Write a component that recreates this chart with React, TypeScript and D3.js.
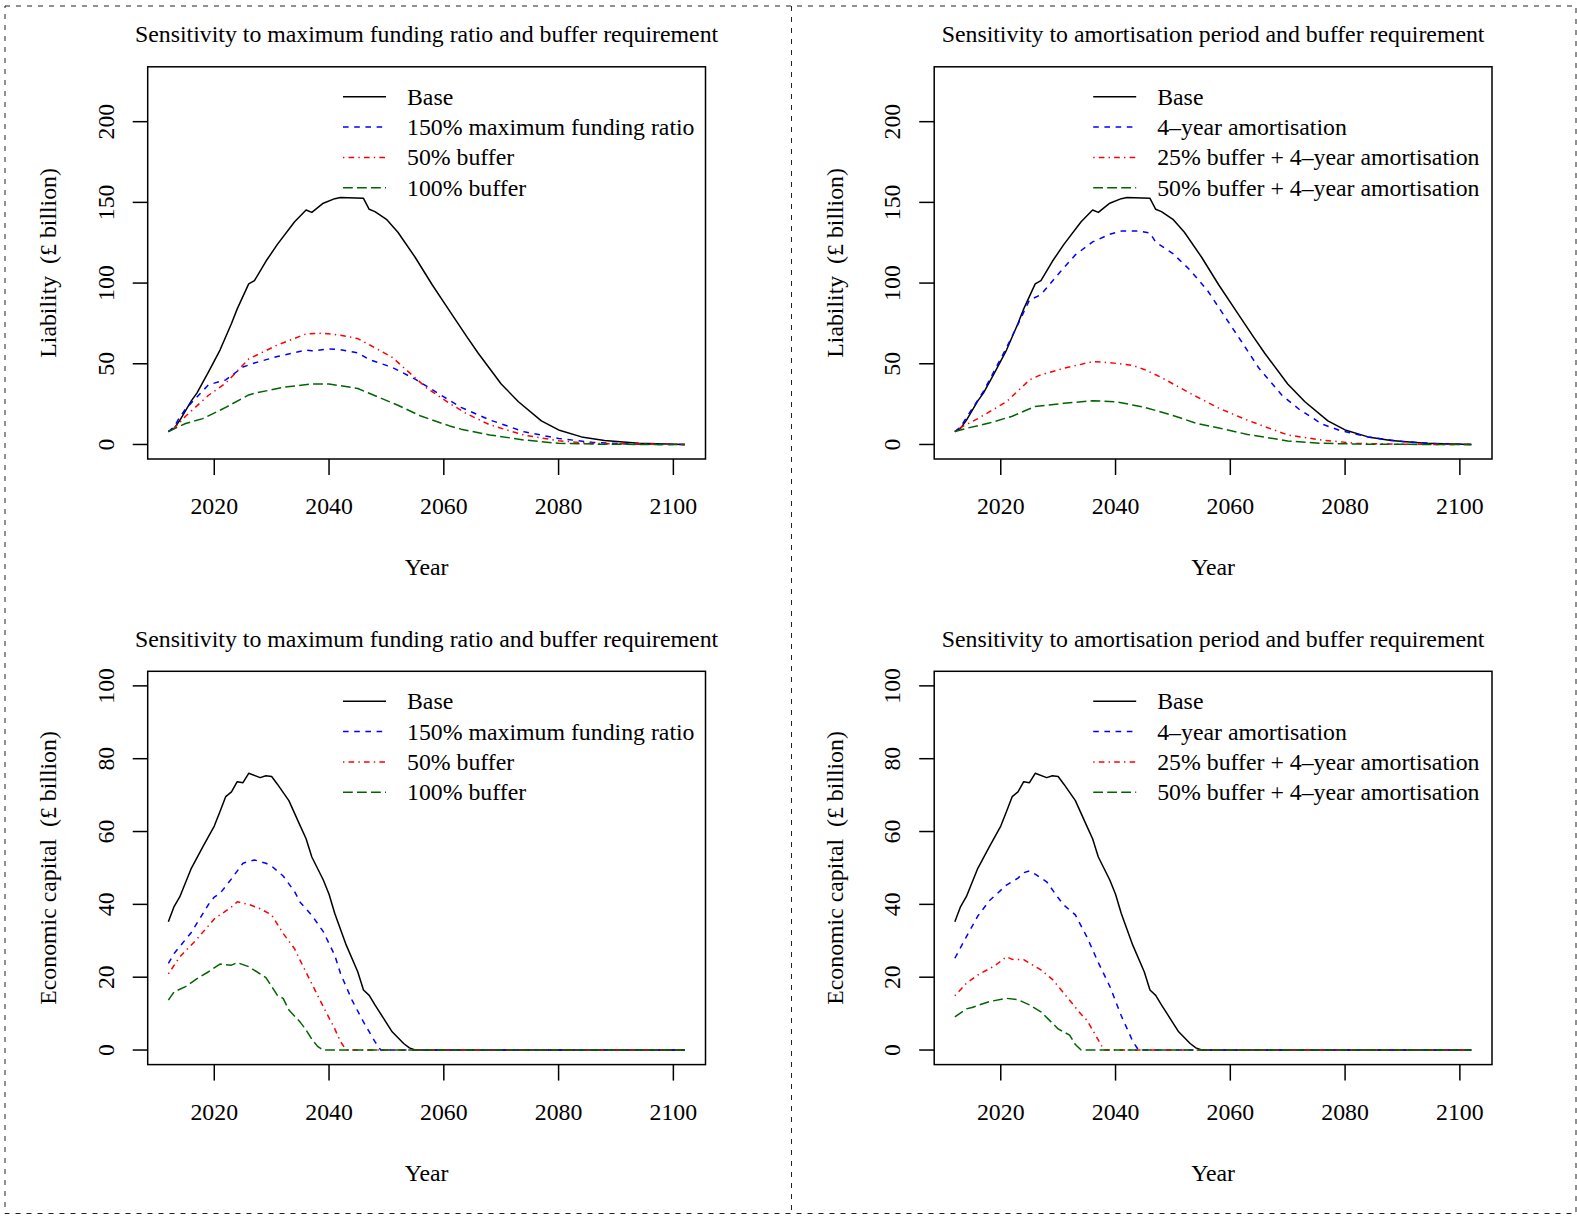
import React, { useEffect, useRef } from 'react';
import * as d3 from 'd3';

type Pt = [number, number];

// Liability (£ billion), top row
const liabBase: Pt[] = [
  [2012, 8], [2013, 10], [2014, 15], [2016, 27], [2017, 32], [2019, 45], [2021, 58.5], [2023, 75],
  [2024, 84], [2026, 99.5], [2027, 101.5], [2029, 113.5], [2031, 124], [2034, 138], [2036, 145.3],
  [2037, 143.8], [2039, 149.5], [2041, 152.3], [2042, 153], [2046, 152.5], [2047, 145.7], [2048, 144.3],
  [2050, 139.5], [2052, 131.5], [2055, 116], [2058, 98.8], [2061, 82.8], [2064, 66.8], [2066, 56.5],
  [2070, 37.5], [2073, 26.5], [2077, 14.6], [2080, 9], [2084, 4.7], [2088, 2.4], [2094, 0.7], [2102, 0],
];
const liabMaxFR150: Pt[] = [
  [2012, 8], [2013, 11], [2014, 17], [2015, 22], [2019, 37], [2022, 40], [2025, 48], [2027, 50.5],
  [2031, 54.5], [2036, 58.5], [2037, 58], [2040, 59.2], [2042, 58.7], [2045, 56.8], [2047, 52.6],
  [2051, 47.8], [2055, 40.5], [2060, 29.5], [2063, 23], [2068, 15.2], [2074, 7.9], [2080, 3.7],
  [2086, 1.3], [2094, 0.1], [2102, 0],
];
const liabBuffer50: Pt[] = [
  [2012, 8], [2013, 10], [2015, 17.5], [2019, 30.5], [2022, 38], [2024, 45.5], [2026, 53], [2031, 61.6],
  [2036, 68.5], [2039, 68.9], [2042, 67.7], [2045, 65.6], [2047, 61.8], [2051, 54], [2054, 44.5],
  [2057, 35], [2061, 25.5], [2064, 19], [2068, 12.2], [2074, 5.8], [2080, 2.3], [2086, 0.6], [2102, 0],
];
const liabBuffer100: Pt[] = [
  [2012, 8], [2015, 13], [2018, 16], [2022, 23], [2026, 30.7], [2027, 31.7], [2032, 35.4], [2037, 37.5],
  [2040, 37.5], [2045, 34.7], [2047, 31.7], [2052, 24.3], [2056, 17.6], [2061, 11.5], [2063, 9.5],
  [2068, 5.9], [2074, 2.8], [2080, 0.7], [2088, 0.1], [2102, 0],
];
const liabAmort4: Pt[] = [
  [2012, 8], [2013, 11], [2017, 33], [2021, 60], [2023, 74.5], [2025, 89.5], [2027, 92.8], [2030, 105.5],
  [2033, 117.5], [2036, 125.5], [2037, 127], [2039, 130.3], [2041, 132.2], [2044, 132.2], [2046, 131],
  [2047, 125.3], [2050, 118.3], [2053, 108], [2056, 95.5], [2058, 84.8], [2062, 63.5], [2065, 47.2],
  [2069, 30.5], [2072, 21.8], [2076, 12.6], [2079, 8.8], [2084, 4.7], [2090, 1.8], [2096, 0.5], [2102, 0],
];
const liabBuf25Amort4: Pt[] = [
  [2012, 8], [2013, 10.5], [2016, 16], [2021, 26.5], [2025, 40], [2027, 43.2], [2031, 47.2], [2036, 51.3],
  [2039, 50.7], [2043, 49], [2045, 46.5], [2048, 41.5], [2053, 31.7], [2058, 22.5], [2063, 15],
  [2070, 5.9], [2076, 2.7], [2082, 0.7], [2090, 0.1], [2102, 0],
];
const liabBuf50Amort4: Pt[] = [
  [2012, 8], [2014, 10], [2018, 13.3], [2022, 17.5], [2026, 23.6], [2031, 25.5], [2036, 27.1], [2040, 26.5],
  [2045, 23.1], [2050, 18], [2054, 13.2], [2058, 10.2], [2063, 6.2], [2070, 2.2], [2076, 0.7],
  [2085, 0.1], [2102, 0],
];

// Economic capital (£ billion), bottom row
const ecBase: Pt[] = [
  [2012, 35.2], [2013, 39.4], [2014, 42.1], [2016, 49.9], [2018, 55.8], [2020, 61.5], [2021, 65.5],
  [2022, 69.6], [2023, 70.9], [2024, 73.7], [2025, 73.4], [2026, 76], [2028, 74.8], [2029, 75.3],
  [2030, 75.1], [2031, 73], [2033, 68.5], [2035, 61.5], [2036, 58], [2037, 53], [2039, 46.7],
  [2040, 42.8], [2041, 37.5], [2043, 28.8], [2045, 21.5], [2046, 16.5], [2047, 15], [2048, 12.4],
  [2051, 5], [2053, 1.8], [2054, 0.6], [2055, 0], [2102, 0],
];
const ecMaxFR150: Pt[] = [
  [2012, 23.8], [2013, 26.5], [2016, 32.3], [2019, 40], [2020, 42], [2021, 43], [2023, 47], [2025, 51.3],
  [2027, 52.2], [2029, 51.3], [2030, 50.5], [2032, 47.8], [2034, 43.5], [2035, 40.5], [2037, 37],
  [2039, 32.5], [2041, 26], [2042, 21], [2044, 13.7], [2046, 7.7], [2048, 2.3], [2049, 0], [2102, 0],
];
const ecBuffer50: Pt[] = [
  [2012, 20.9], [2014, 25.6], [2017, 30.5], [2020, 36], [2023, 39.3], [2024, 40.7], [2026, 40],
  [2028, 38.8], [2030, 37.1], [2032, 32], [2034, 27.8], [2035, 24.5], [2037, 18.2], [2039, 11.9],
  [2041, 5.8], [2042, 2.3], [2043, 0], [2102, 0],
];
const ecBuffer100: Pt[] = [
  [2012, 13.7], [2013, 16], [2015, 17.4], [2017, 19.6], [2019, 21.5], [2021, 23.6], [2023, 23.3],
  [2024, 24], [2026, 22.9], [2029, 19.9], [2031, 15], [2032, 14.2], [2033, 11], [2035, 7.6],
  [2036, 5.5], [2037, 3], [2038, 1], [2039, 0], [2102, 0],
];
const ecAmort4: Pt[] = [
  [2012, 25.2], [2014, 31.1], [2016, 36.8], [2018, 41], [2021, 45.3], [2023, 47.2], [2024, 48.7],
  [2025, 49.2], [2026, 48.3], [2028, 46.2], [2030, 41.8], [2031, 39.8], [2033, 37.1], [2035, 31.1],
  [2037, 24], [2039, 17.5], [2041, 9.4], [2043, 2.4], [2044, 0], [2102, 0],
];
const ecBuf25Amort4: Pt[] = [
  [2012, 14.9], [2014, 18.3], [2016, 20.6], [2019, 23.2], [2021, 25.6], [2022, 24.9], [2024, 24.8],
  [2027, 22], [2029, 19.4], [2031, 15.6], [2034, 9.8], [2035, 8.2], [2036, 5.5], [2038, 0], [2102, 0],
];
const ecBuf50Amort4: Pt[] = [
  [2012, 9.1], [2014, 11.3], [2015, 11.7], [2018, 13.3], [2021, 14.2], [2023, 13.8], [2025, 12.4],
  [2027, 10.5], [2030, 5.8], [2032, 4.1], [2033, 1.5], [2034, 0], [2102, 0],
];

const xTicks = [2020, 2040, 2060, 2080, 2100];
const liabTicks = [0, 50, 100, 150, 200];
const ecTicks = [0, 20, 40, 60, 80, 100];

const titleMaxFR = 'Sensitivity to maximum funding ratio and buffer requirement';
const titleAmort = 'Sensitivity to amortisation period and buffer requirement';
const labelsMaxFR = ['Base', '150% maximum funding ratio', '50% buffer', '100% buffer'];
const labelsAmort = ['Base', '4\u2013year amortisation', '25% buffer + 4\u2013year amortisation', '50% buffer + 4\u2013year amortisation'];

const styles = [
  { color: 'black', dash: '' },
  { color: 'blue', dash: '5.6,5.6' },
  { color: 'red', dash: '1.4,4.2,5.6,4.2' },
  { color: '#006400', dash: '9.8,4.2' },
];

const FONT = '"Liberation Serif", "Times New Roman", serif';
const FS = 23.8;

interface PanelProps {
  ox: number;
  oy: number;
  title: string;
  yLabel: string;
  yDomain: [number, number];
  yTicks: number[];
  boxH: number;
  series: Pt[][];
  labels: string[];
  legendX: number;
}

const Panel = ({ ox, oy, title, yLabel, yDomain, yTicks, boxH, series, labels, legendX }: PanelProps) => {
  const gRef = useRef<SVGGElement | null>(null);

  useEffect(() => {
    if (!gRef.current) return;
    const g = d3.select(gRef.current);
    g.selectAll('*').remove();

    const left = ox + 147.7;
    const right = ox + 705.5;
    const top = oy;
    const bottom = oy + boxH;

    const x = d3.scaleLinear().domain([2008.4, 2105.6]).range([left, right]);
    const y = d3.scaleLinear().domain(yDomain).range([bottom, top]);

    // title
    g.append('text')
      .attr('x', (left + right) / 2)
      .attr('y', top - 24.8)
      .attr('text-anchor', 'middle')
      .text(title);

    // series
    const line = d3.line<Pt>().x((d) => x(d[0])).y((d) => y(d[1]));
    series.forEach((s, i) => {
      g.append('path')
        .attr('d', line(s))
        .attr('fill', 'none')
        .attr('stroke', styles[i].color)
        .attr('stroke-width', 1.5)
        .attr('stroke-dasharray', styles[i].dash || null)
        .attr('stroke-linejoin', 'round');
    });

    // box
    g.append('rect')
      .attr('x', left).attr('y', top)
      .attr('width', right - left).attr('height', bottom - top)
      .attr('fill', 'none').attr('stroke', 'black').attr('stroke-width', 1.5);

    // x axis
    xTicks.forEach((t) => {
      g.append('line')
        .attr('x1', x(t)).attr('x2', x(t))
        .attr('y1', bottom).attr('y2', bottom + 16)
        .attr('stroke', 'black').attr('stroke-width', 1.5);
      g.append('text')
        .attr('x', x(t)).attr('y', bottom + 55)
        .attr('text-anchor', 'middle')
        .text(t);
    });
    g.append('text')
      .attr('x', (left + right) / 2).attr('y', bottom + 116)
      .attr('text-anchor', 'middle')
      .text('Year');

    // y axis
    yTicks.forEach((t) => {
      g.append('line')
        .attr('x1', left - 15).attr('x2', left)
        .attr('y1', y(t)).attr('y2', y(t))
        .attr('stroke', 'black').attr('stroke-width', 1.5);
      g.append('text')
        .attr('transform', `translate(${ox + 113.6},${y(t)}) rotate(-90)`)
        .attr('text-anchor', 'middle')
        .text(t);
    });
    g.append('text')
      .attr('transform', `translate(${ox + 56},${(top + bottom) / 2}) rotate(-90)`)
      .attr('text-anchor', 'middle')
      .style('white-space', 'pre')
      .text(yLabel);

    // legend
    labels.forEach((lab, i) => {
      const ly = top + 30 + i * 30.3;
      g.append('line')
        .attr('x1', left + legendX).attr('x2', left + legendX + 43)
        .attr('y1', ly).attr('y2', ly)
        .attr('stroke', styles[i].color)
        .attr('stroke-width', 1.5)
        .attr('stroke-dasharray', styles[i].dash || null);
      g.append('text')
        .attr('x', left + legendX + 64).attr('y', ly + 8)
        .text(lab);
    });
  }, [ox, oy, title, yLabel, yDomain, yTicks, boxH, series, labels, legendX]);

  return <g ref={gRef} style={{ fontFamily: FONT, fontSize: FS }} fill="black"></g>;
};

const App = () => {
  const W = 1577;
  const H = 1220;
  return (
    <svg width={W} height={H} style={{ position: 'absolute', left: 0, top: 0, background: 'white' }}>
      <rect x={0} y={0} width={W} height={H} fill="white" />
      <g fill="none" stroke="#222" strokeWidth={1} strokeDasharray="5,6">
        <rect x={5} y={6} width={1571} height={1207.5} />
        <line x1={791.5} x2={791.5} y1={6} y2={1213.5} />
      </g>
      <Panel ox={0} oy={66.8} title={titleMaxFR} yLabel={'Liability  (\u00a3 billion)'} yDomain={[-9, 234]}
        yTicks={liabTicks} boxH={392.2} series={[liabBase, liabMaxFR150, liabBuffer50, liabBuffer100]}
        labels={labelsMaxFR} legendX={195.3} />
      <Panel ox={786.5} oy={66.8} title={titleAmort} yLabel={'Liability  (\u00a3 billion)'} yDomain={[-9, 234]}
        yTicks={liabTicks} boxH={392.2} series={[liabBase, liabAmort4, liabBuf25Amort4, liabBuf50Amort4]}
        labels={labelsAmort} legendX={159} />
      <Panel ox={0} oy={671.3} title={titleMaxFR} yLabel={'Economic capital  (\u00a3 billion)'} yDomain={[-4, 104]}
        yTicks={ecTicks} boxH={393.3} series={[ecBase, ecMaxFR150, ecBuffer50, ecBuffer100]}
        labels={labelsMaxFR} legendX={195.3} />
      <Panel ox={786.5} oy={671.3} title={titleAmort} yLabel={'Economic capital  (\u00a3 billion)'} yDomain={[-4, 104]}
        yTicks={ecTicks} boxH={393.3} series={[ecBase, ecAmort4, ecBuf25Amort4, ecBuf50Amort4]}
        labels={labelsAmort} legendX={159} />
    </svg>
  );
};

export default App;
